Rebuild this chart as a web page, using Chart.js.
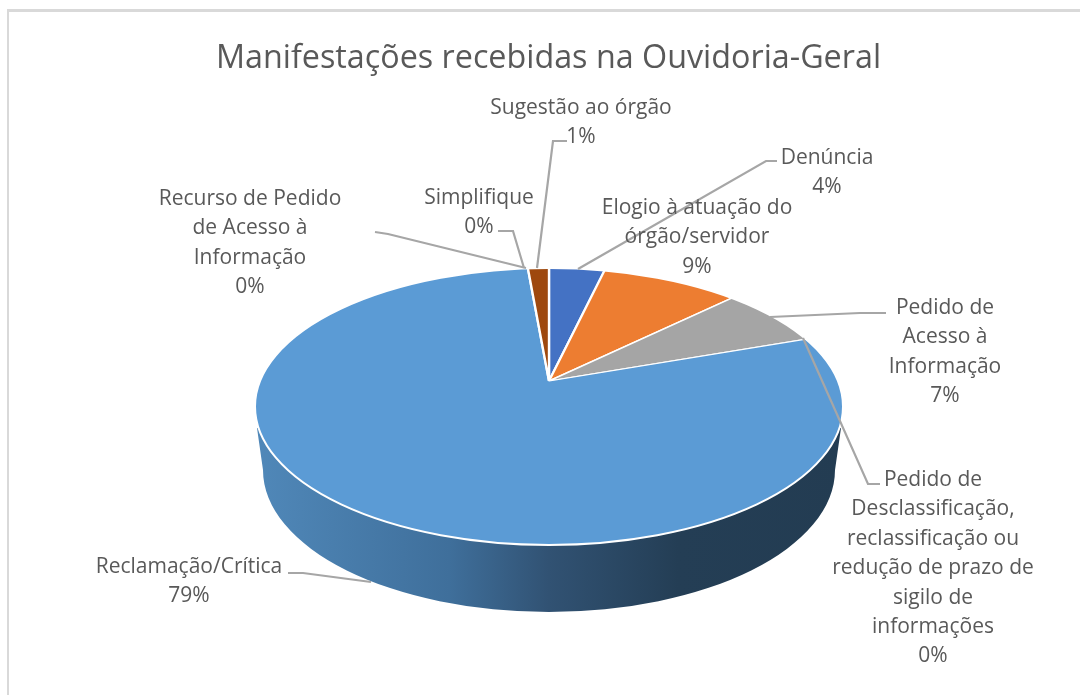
<!DOCTYPE html>
<html>
<head>
<meta charset="utf-8">
<title>Manifestações recebidas na Ouvidoria-Geral</title>
<script src="https://cdn.jsdelivr.net/npm/chart.js@4"></script>
<style>
  html, body { margin: 0; padding: 0; background: #fff; overflow: hidden; }
  #myChart { display: block; }
</style>
</head>
<body>
<canvas id="myChart" width="1080" height="695"></canvas>
<script>
// wrapped the same way as the data labels in the picture
const categoryLines = [
  ['Denúncia'],
  ['Elogio à atuação do', 'órgão/servidor'],
  ['Pedido de', 'Acesso à', 'Informação'],
  ['Pedido de', 'Desclassificação,', 'reclassificação ou', 'redução de prazo de', 'sigilo de', 'informações'],
  ['Reclamação/Crítica'],
  ['Recurso de Pedido', 'de Acesso à', 'Informação'],
  ['Simplifique'],
  ['Sugestão ao órgão']
];
const categories = categoryLines.map(l => l.join(' '));
const percentValues = [3.7, 9.1, 6.9, 0, 78.9, 0, 0, 1.4];
const sliceColors = ['#4472c4', '#ed7d31', '#a5a5a5', '#ffc000', '#5b9bd5', '#70ad47', '#264478', '#9e480e'];

// label placement: centre x, y of the first line
const labelSpots = [[827, 158], [697, 208], [945, 308], [933, 480], [189, 567], [250, 199], [479, 198], [581, 108]];
// leader lines: text end, elbow, slice end
const leaders = [
  [[777, 161], [766, 161], [578, 269]],
  null,
  [[886, 313], [860, 313], [770, 317]],
  [[880, 484], [868, 484], [803, 338]],
  [[288, 573], [303, 573], [371, 582]],
  [[375, 232], [388, 234], [526, 268]],
  [[498, 231], [513, 231], [524, 268]],
  [[567, 141], [553, 141], [537, 268]]
];

// tilted pie: top face ellipse, point where the slices meet, lower rim
const top3d = { x: 549, y: 406.5, rx: 294, ry: 138.5 };
const apex = { x: 549, y: 381 };
const rim = { x: 549, y: 470, rx: 286, ry: 142 };
const pieRadius = 250;
const overscan = 1.35;

const fontName = '"Open Sans", "Noto Sans", sans-serif';

const tiltPlugin = {
  id: 'tilt',
  beforeDatasetsDraw(chart) {
    const ctx = chart.ctx;
    // side wall, only the big slice shows at the front
    let grad = ctx.createLinearGradient(top3d.x - top3d.rx, 0, top3d.x + top3d.rx, 0);
    grad.addColorStop(0, '#5088b9');
    grad.addColorStop(0.33, '#3f6f9b');
    grad.addColorStop(0.5, '#315273');
    grad.addColorStop(0.72, '#243e55');
    grad.addColorStop(1, '#233c52');
    ctx.save();
    ctx.fillStyle = grad;
    ctx.beginPath();
    ctx.moveTo(top3d.x - top3d.rx + 2, 428);
    ctx.lineTo(rim.x - rim.rx, rim.y);
    ctx.ellipse(rim.x, rim.y, rim.rx, rim.ry, 0, Math.PI, 0, true);
    ctx.lineTo(top3d.x + top3d.rx - 2, 428);
    ctx.closePath();
    ctx.fill();
    ctx.restore();

    // slices are squashed around the apex and clipped to the top face
    const arc = chart.getDatasetMeta(0).data[0];
    ctx.save();
    ctx.beginPath();
    ctx.ellipse(top3d.x, top3d.y, top3d.rx, top3d.ry, 0, 0, Math.PI * 2);
    ctx.clip();
    ctx.translate(apex.x, apex.y);
    ctx.scale(top3d.rx / pieRadius * overscan, top3d.ry / pieRadius * overscan);
    ctx.translate(-arc.x, -arc.y);
  },
  afterDatasetsDraw(chart) {
    const ctx = chart.ctx;
    ctx.restore();
    ctx.save();
    ctx.strokeStyle = '#ffffff';
    ctx.lineWidth = 2;
    ctx.beginPath();
    ctx.ellipse(top3d.x, top3d.y, top3d.rx, top3d.ry, 0, 0, Math.PI * 2);
    ctx.stroke();
    ctx.restore();
  },
  afterDraw(chart) {
    const ctx = chart.ctx;
    ctx.save();
    // chart frame
    ctx.fillStyle = '#d9d9d9';
    ctx.fillRect(7, 9, 1073, 3);
    ctx.fillRect(7, 9, 2, 686);

    ctx.strokeStyle = '#a6a6a6';
    ctx.lineWidth = 2.2;
    leaders.forEach(pts => {
      if (!pts) return;
      ctx.beginPath();
      pts.forEach((p, i) => i ? ctx.lineTo(p[0], p[1]) : ctx.moveTo(p[0], p[1]));
      ctx.stroke();
    });

    ctx.fillStyle = '#595959';
    ctx.font = '21px ' + fontName;
    ctx.textAlign = 'center';
    ctx.textBaseline = 'middle';
    const total = percentValues.reduce((a, b) => a + b, 0);
    categoryLines.forEach((lines, i) => {
      const pct = Math.round(percentValues[i] / total * 100) + '%';
      lines.concat(pct).forEach((txt, n) => {
        ctx.fillText(txt, labelSpots[i][0], labelSpots[i][1] + n * 29.4);
      });
    });
    ctx.restore();
  }
};

new Chart(document.getElementById('myChart').getContext('2d'), {
  type: 'pie',
  data: {
    labels: categories,
    datasets: [{
      data: percentValues,
      backgroundColor: sliceColors,
      borderColor: '#ffffff',
      borderWidth: 1.5
    }]
  },
  plugins: [tiltPlugin],
  options: {
    responsive: false,
    animation: false,
    radius: pieRadius,
    layout: { padding: { left: 17 } },
    plugins: {
      legend: { display: false },
      tooltip: { enabled: false },
      title: {
        display: true,
        text: 'Manifestações recebidas na Ouvidoria-Geral',
        color: '#595959',
        font: { family: fontName, size: 32.3, weight: 'normal' },
        padding: { top: 39, bottom: 10 }
      }
    }
  }
});
</script>
</body>
</html>
